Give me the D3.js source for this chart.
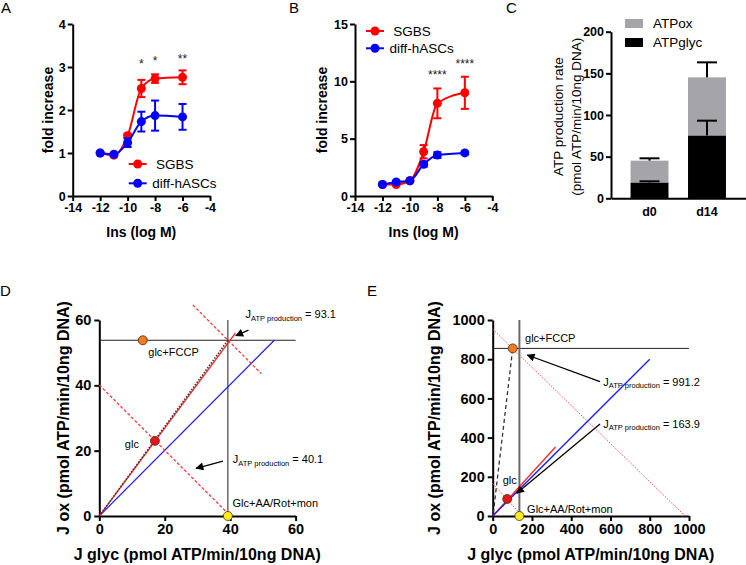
<!DOCTYPE html>
<html>
<head>
<meta charset="utf-8">
<script src="https://cdnjs.cloudflare.com/ajax/libs/d3/7.8.5/d3.min.js"></script>
<style>
    body { margin: 0; background: #fff; }
    .axis path, .axis line { stroke: #000; stroke-width: 2px; }
    .axis text { font-weight: bold; fill: #000; font-size: 12.5px; }
    .axis.big text { font-size: 14.5px; }
    .title { font-weight: bold; fill: #000; }
</style>
</head>
<body>
<div id="chart"></div>
<script>
// ---- A / B : insulin dose response ----
const insDose = [-12, -11, -10, -9, -8, -6];
const doseTicks = [-14, -12, -10, -8, -6, -4];
const seriesNames = [" SGBS", "diff-hASCs"];

const aSgbs    = [1.00, 0.95, 1.40, 2.50, 2.73, 2.76];
const aSgbsErr = [0.02, 0.03, 0.05, 0.20, 0.10, 0.16];
const aHasc    = [1.00, 0.97, 1.24, 1.73, 1.87, 1.84];
const aHascErr = [0.02, 0.03, 0.10, 0.23, 0.35, 0.30];
const aTicks = [0, 1, 2, 3, 4];
const aStarDose = [-9, -8, -6];
const aStarLevel = [2.98, 3.05, 3.09];
const aStarText = ["*", "*", "**"];

const bSgbs    = [1.00, 1.00, 1.33, 3.86, 8.08, 9.00];
const bSgbsErr = [0.05, 0.05, 0.08, 0.58, 1.30, 1.40];
const bHasc    = [1.00, 1.22, 1.33, 2.76, 3.57, 3.76];
const bHascErr = [0.03, 0.10, 0.08, 0.20, 0.25, 0.12];
const bTicks = [0, 5, 10, 15];
const bStarDose = [-8, -6];
const bStarLevel = [10.2, 11.16];
const bStarText = ["****", "****"];

// ---- C : ATP production rate ----
const days = ["d0", "d14"];
const atpGlyc = [19.0, 75.5];
const atpOx = [26.2, 69.7];
const atpGlycErr = [1.4, 17.7];
const atpTotalErr = [2.8, 18.0];
const cTicks = [0, 50, 100, 150, 200];
const cLegend = ["ATPox", "ATPglyc"];

// ---- D : bioenergetic space, day 0 ----
const dTicks = [0, 20, 40, 60];
const dNames = ["glc+FCCP", "glc", "Glc+AA/Rot+mon"];
const dGlyc = [13.3, 17.0, 39.3];
const dOx = [53.8, 23.0, 0];
const dFitRed = [[0, 0], [41.6, 56.0]];
const dFitBlue = [[0, 0], [53.5, 53.8]];
const dDotted = [[0, 0], [39.3, 53.8]];
const dIso = [[[0, 40.1], [39.6, 0.5]], [[28.6, 64.6], [49.5, 43.6]]];
const dJ = ["40.1", "93.1"];

// ---- E : bioenergetic space, day 14 ----
const eTicks = [0, 200, 400, 600, 800, 1000];
const eNames = ["glc+FCCP", "glc", "Glc+AA/Rot+mon"];
const eGlyc = [102, 74, 136];
const eOx = [855, 87, 0];
const eFitRed = [[0, 0], [320, 352]];
const eFitBlue = [[0, 0], [800, 800]];
const eDashed = [[3, 14], [102, 855]];
const eIso = [[[0, 165], [150, 0]], [[0, 953], [980, 0]]];
const eJ = ["163.9", "991.2"];

const pointColors = ["#f47a20", "#e8141c", "#ffec1a"];
const seriesColors = ["#ff0000", "#0000ff"];
const intFmt = d3.format("d");

const svg = d3.select("#chart").append("svg")
    .attr("width", 746)
    .attr("height", 565)
    .style("font-family", '"Liberation Sans", Arial, sans-serif');

svg.append("defs").append("marker")
    .attr("id", "head")
    .attr("viewBox", "0 0 10 10")
    .attr("refX", 9).attr("refY", 5)
    .attr("markerWidth", 9).attr("markerHeight", 8)
    .attr("markerUnits", "userSpaceOnUse")
    .attr("orient", "auto")
  .append("path")
    .attr("d", "M0,0L10,5L0,10z")
    .attr("fill", "#000");

function letter(t, x, y) {
    svg.append("text").attr("x", x).attr("y", y)
       .attr("font-size", 15).text(t);
}

function vTitle(g, lines, cy, size, bold) {
    lines.forEach(function(l) {
        g.append("text")
         .attr("class", bold ? "title" : null)
         .attr("transform", `translate(${l[1]},${cy}) rotate(-90)`)
         .attr("text-anchor", "middle")
         .attr("font-size", size)
         .text(l[0]);
    });
}

function dosePanel(left, yMax, yTicks, means, errs, stars, legend, titleGap) {
    let x = d3.scaleLinear().domain([-14, -4]).range([left, left + 137.3]);
    let y = d3.scaleLinear().domain([0, yMax]).range([196, 24]);
    let g = svg.append("g");

    g.append("g").attr("class", "axis")
     .attr("transform", "translate(0,196)")
     .call(d3.axisBottom(x).tickValues(doseTicks).tickSize(5)
           .tickSizeOuter(0).tickPadding(2).tickFormat(d => String(d)));
    g.append("g").attr("class", "axis")
     .attr("transform", `translate(${left},0)`)
     .call(d3.axisLeft(y).tickValues(yTicks).tickSize(5)
           .tickSizeOuter(0).tickPadding(2).tickFormat(intFmt));

    g.append("text").attr("class", "title")
     .attr("x", left + 68.6).attr("y", 237)
     .attr("text-anchor", "middle").attr("font-size", 14)
     .text("Ins (log M)");
    vTitle(g, [["fold increase", left - titleGap]], 110, 14, true);

    means.forEach(function(m, k) {
        let pts = insDose.map((d, i) => ({ x: d, m: m[i], e: errs[k][i] }));
        let col = seriesColors[k];
        let sg = g.append("g");
        let line = d3.line()
            .x(d => x(d.x))
            .y(d => y(d.m))
            .curve(d3.curveMonotoneX);
        sg.append("path").attr("d", line(pts))
          .attr("fill", "none").attr("stroke", col).attr("stroke-width", 2);
        sg.selectAll(".eb").data(pts).join("line")
          .attr("x1", d => x(d.x)).attr("x2", d => x(d.x))
          .attr("y1", d => y(d.m - d.e)).attr("y2", d => y(d.m + d.e))
          .attr("stroke", col).attr("stroke-width", 2);
        [-1, 1].forEach(function(s) {
            sg.selectAll(".cap" + s).data(pts).join("line")
              .attr("x1", d => x(d.x) - 4).attr("x2", d => x(d.x) + 4)
              .attr("y1", d => y(d.m + s * d.e)).attr("y2", d => y(d.m + s * d.e))
              .attr("stroke", col).attr("stroke-width", 2);
        });
        sg.selectAll("circle").data(pts).join("circle")
          .attr("cx", d => x(d.x)).attr("cy", d => y(d.m))
          .attr("r", 4.5).attr("fill", col);

        // legend
        let ly = legend[1] + k * legend[2];
        g.append("line")
         .attr("x1", legend[0] - 9).attr("x2", legend[0] + 9)
         .attr("y1", ly).attr("y2", ly)
         .attr("stroke", col).attr("stroke-width", 2);
        g.append("circle").attr("cx", legend[0]).attr("cy", ly)
         .attr("r", 4.5).attr("fill", col);
        g.append("text").attr("x", legend[0] + 14.5).attr("y", ly + 4.6)
         .attr("font-size", 13.5).style("white-space", "pre")
         .text(seriesNames[k]);
    });

    g.selectAll(".star").data(stars[0]).join("text")
     .attr("x", d => x(d)).attr("y", (d, i) => y(stars[1][i]))
     .attr("text-anchor", "middle").attr("font-size", 12).attr("fill", "#222")
     .text((d, i) => stars[2][i]);
}

dosePanel(72.7, 4, aTicks, [aSgbs, aHasc], [aSgbsErr, aHascErr],
          [aStarDose, aStarLevel, aStarText], [137.7, 164, 19.3], 20);
dosePanel(355, 15, bTicks, [bSgbs, bHasc], [bSgbsErr, bHascErr],
          [bStarDose, bStarLevel, bStarText], [375, 31, 17.3], 28);

// ---- panel C ----
(function() {
    let g = svg.append("g");
    let x = d3.scaleBand().domain(days).range([611, 745.5])
              .paddingInner(0.34).paddingOuter(0.34);
    let y = d3.scaleLinear().domain([0, 200]).range([198.3, 31.7]);
    let rows = days.map((d, i) => ({ day: d, glyc: atpGlyc[i], ox: atpOx[i] }));
    let stack = d3.stack().keys(["glyc", "ox"])(rows);
    let fills = ["#000", "#a5a5a9"];

    stack.forEach(function(layer, k) {
        g.append("g").selectAll("rect").data(layer).join("rect")
         .attr("x", d => x(d.data.day))
         .attr("width", x.bandwidth())
         .attr("y", d => y(d[1]))
         .attr("height", d => y(d[0]) - y(d[1]))
         .attr("fill", fills[k]);
    });

    let errs = [atpGlycErr, atpTotalErr];
    stack.forEach(function(layer, k) {
        layer.forEach(function(d, i) {
            let cx = x(d.data.day) + x.bandwidth() / 2;
            g.append("line").attr("x1", cx).attr("x2", cx)
             .attr("y1", y(d[1])).attr("y2", y(d[1] + errs[k][i]))
             .attr("stroke", "#000").attr("stroke-width", 2);
            g.append("line").attr("x1", cx - 10).attr("x2", cx + 10)
             .attr("y1", y(d[1] + errs[k][i])).attr("y2", y(d[1] + errs[k][i]))
             .attr("stroke", "#000").attr("stroke-width", 2);
        });
    });

    g.append("g").attr("class", "axis")
     .attr("transform", "translate(0,198.3)")
     .call(d3.axisBottom(x).tickSize(0).tickPadding(9).tickSizeOuter(0));
    g.append("g").attr("class", "axis")
     .attr("transform", "translate(611,0)")
     .call(d3.axisLeft(y).tickValues(cTicks).tickSize(5)
           .tickSizeOuter(0).tickPadding(2).tickFormat(intFmt));

    vTitle(g, [["ATP production rate", 562.5], ["(pmol ATP/min/10ng DNA)", 580.5]],
           116.7, 13.5, false);

    cLegend.forEach(function(name, i) {
        g.append("rect").attr("x", 625).attr("y", 19 + i * 19)
         .attr("width", 18).attr("height", 9).attr("fill", fills[1 - i]);
        g.append("text").attr("x", 653).attr("y", 28 + i * 19)
         .attr("font-size", 13.5).text(name);
    });
})();

// ---- panels D and E ----
function seg(g, x, y, p, col, w, dash) {
    g.append("line")
     .attr("x1", x(p[0][0])).attr("y1", y(p[0][1]))
     .attr("x2", x(p[1][0])).attr("y2", y(p[1][1]))
     .attr("stroke", col).attr("stroke-width", w)
     .attr("stroke-dasharray", dash || null);
}

function jLabel(g, px, py, val) {
    let t = g.append("text").attr("x", px).attr("y", py).attr("font-size", 11);
    t.append("tspan").text("J");
    t.append("tspan").attr("font-size", 7.5).attr("dy", 2.5).text("ATP production");
    t.append("tspan").attr("dy", -2.5).text(" = " + val);
}

function fluxPanel(left, max, ticks, names, glyc, ox, labelOff, titleGap) {
    let x = d3.scaleLinear().domain([0, max]).range([left, left + 196.3]);
    let y = d3.scaleLinear().domain([0, max]).range([516, 320]);
    let g = svg.append("g");
    g.append("g").attr("class", "axis big")
     .attr("transform", "translate(0,516)")
     .call(d3.axisBottom(x).tickValues(ticks).tickSize(5).tickSizeOuter(0)
           .tickPadding(3).tickFormat(intFmt));
    g.append("g").attr("class", "axis big")
     .attr("transform", `translate(${left},0)`)
     .call(d3.axisLeft(y).tickValues(ticks).tickSize(5).tickSizeOuter(0)
           .tickPadding(3).tickFormat(intFmt));
    g.append("text").attr("class", "title")
     .attr("x", left + 98).attr("y", 560)
     .attr("text-anchor", "middle").attr("font-size", 16)
     .text("J glyc (pmol ATP/min/10ng DNA)");
    vTitle(g, [["J ox (pmol ATP/min/10ng DNA)", left - titleGap]], 418, 16, true);
    let pts = g.append("g");
    return { g: g, x: x, y: y, draw: function() {
        names.forEach(function(n, i) {
            pts.append("circle").attr("cx", x(glyc[i])).attr("cy", y(ox[i]))
               .attr("r", 4.5).attr("fill", pointColors[i])
               .attr("stroke", "#4a2a10").attr("stroke-width", 0.8);
            pts.append("text")
               .attr("x", x(glyc[i]) + labelOff[i][0])
               .attr("y", y(ox[i]) + labelOff[i][1])
               .attr("text-anchor", labelOff[i][2] || "start")
               .attr("font-size", 11).text(n);
        });
        pts.raise();
    }};
}

function arrow(g, x, y, p) {
    g.append("line")
     .attr("x1", x(p[0][0])).attr("y1", y(p[0][1]))
     .attr("x2", x(p[1][0])).attr("y2", y(p[1][1]))
     .attr("stroke", "#000").attr("stroke-width", 1.3)
     .attr("marker-end", "url(#head)");
}

(function() {
    let p = fluxPanel(99.3, 60, dTicks, dNames, dGlyc, dOx,
                      [[5.5, 15.7], [-16, 7, "end"], [4.6, -9.3]], 30.5);
    let g = p.g, x = p.x, y = p.y;
    seg(g, x, y, [[0, dOx[0]], [60, dOx[0]]], "#222", 1);
    seg(g, x, y, [[dGlyc[2], 0], [dGlyc[2], 60]], "#222", 1);
    seg(g, x, y, dFitBlue, "#1a1aff", 1.2);
    seg(g, x, y, dFitRed, "#ff2020", 1.3);
    seg(g, x, y, dDotted, "#333", 1.5, "1.5,1.5");
    dIso.forEach(s => seg(g, x, y, s, "#ff2a2a", 1.2, "3,2"));
    jLabel(g, x(44.7), y(60.5), dJ[1]);
    jLabel(g, x(40.8), y(16.1), dJ[0]);
    arrow(g, x, y, [[45.6, 56.9], [41.75, 55.2]]);
    arrow(g, x, y, [[37.8, 16.8], [29.6, 14.6]]);
    p.draw();
})();

(function() {
    let p = fluxPanel(492.7, 1000, eTicks, eNames, eGlyc, eOx,
                      [[12.3, -6.6], [-4.6, -14.7], [7.7, -2.7]], 52.7);
    let g = p.g, x = p.x, y = p.y;
    seg(g, x, y, [[0, eOx[0]], [1000, eOx[0]]], "#222", 1);
    seg(g, x, y, [[eGlyc[2], 0], [eGlyc[2], 1000]], "#6a6a6a", 2);
    eIso.forEach(s => seg(g, x, y, s, "#ff4d4d", 1, "1.5,1.5"));
    seg(g, x, y, eFitRed, "#ff2020", 1.3);
    seg(g, x, y, eFitBlue, "#1a1aff", 1.3);
    seg(g, x, y, eDashed, "#333", 1.3, "4,3");
    jLabel(g, x(563.5), y(663.3), eJ[1]);
    jLabel(g, x(563.5), y(450.5), eJ[0]);
    arrow(g, x, y, [[546.6, 685.2], [176.3, 821.4]]);
    arrow(g, x, y, [[546.6, 469.4], [122.3, 115.8]]);
    p.draw();
})();

letter("A", 1, 13);
letter("B", 289, 13);
letter("C", 506, 13);
letter("D", 0, 296);
letter("E", 367, 296);
</script>
</body>
</html>
